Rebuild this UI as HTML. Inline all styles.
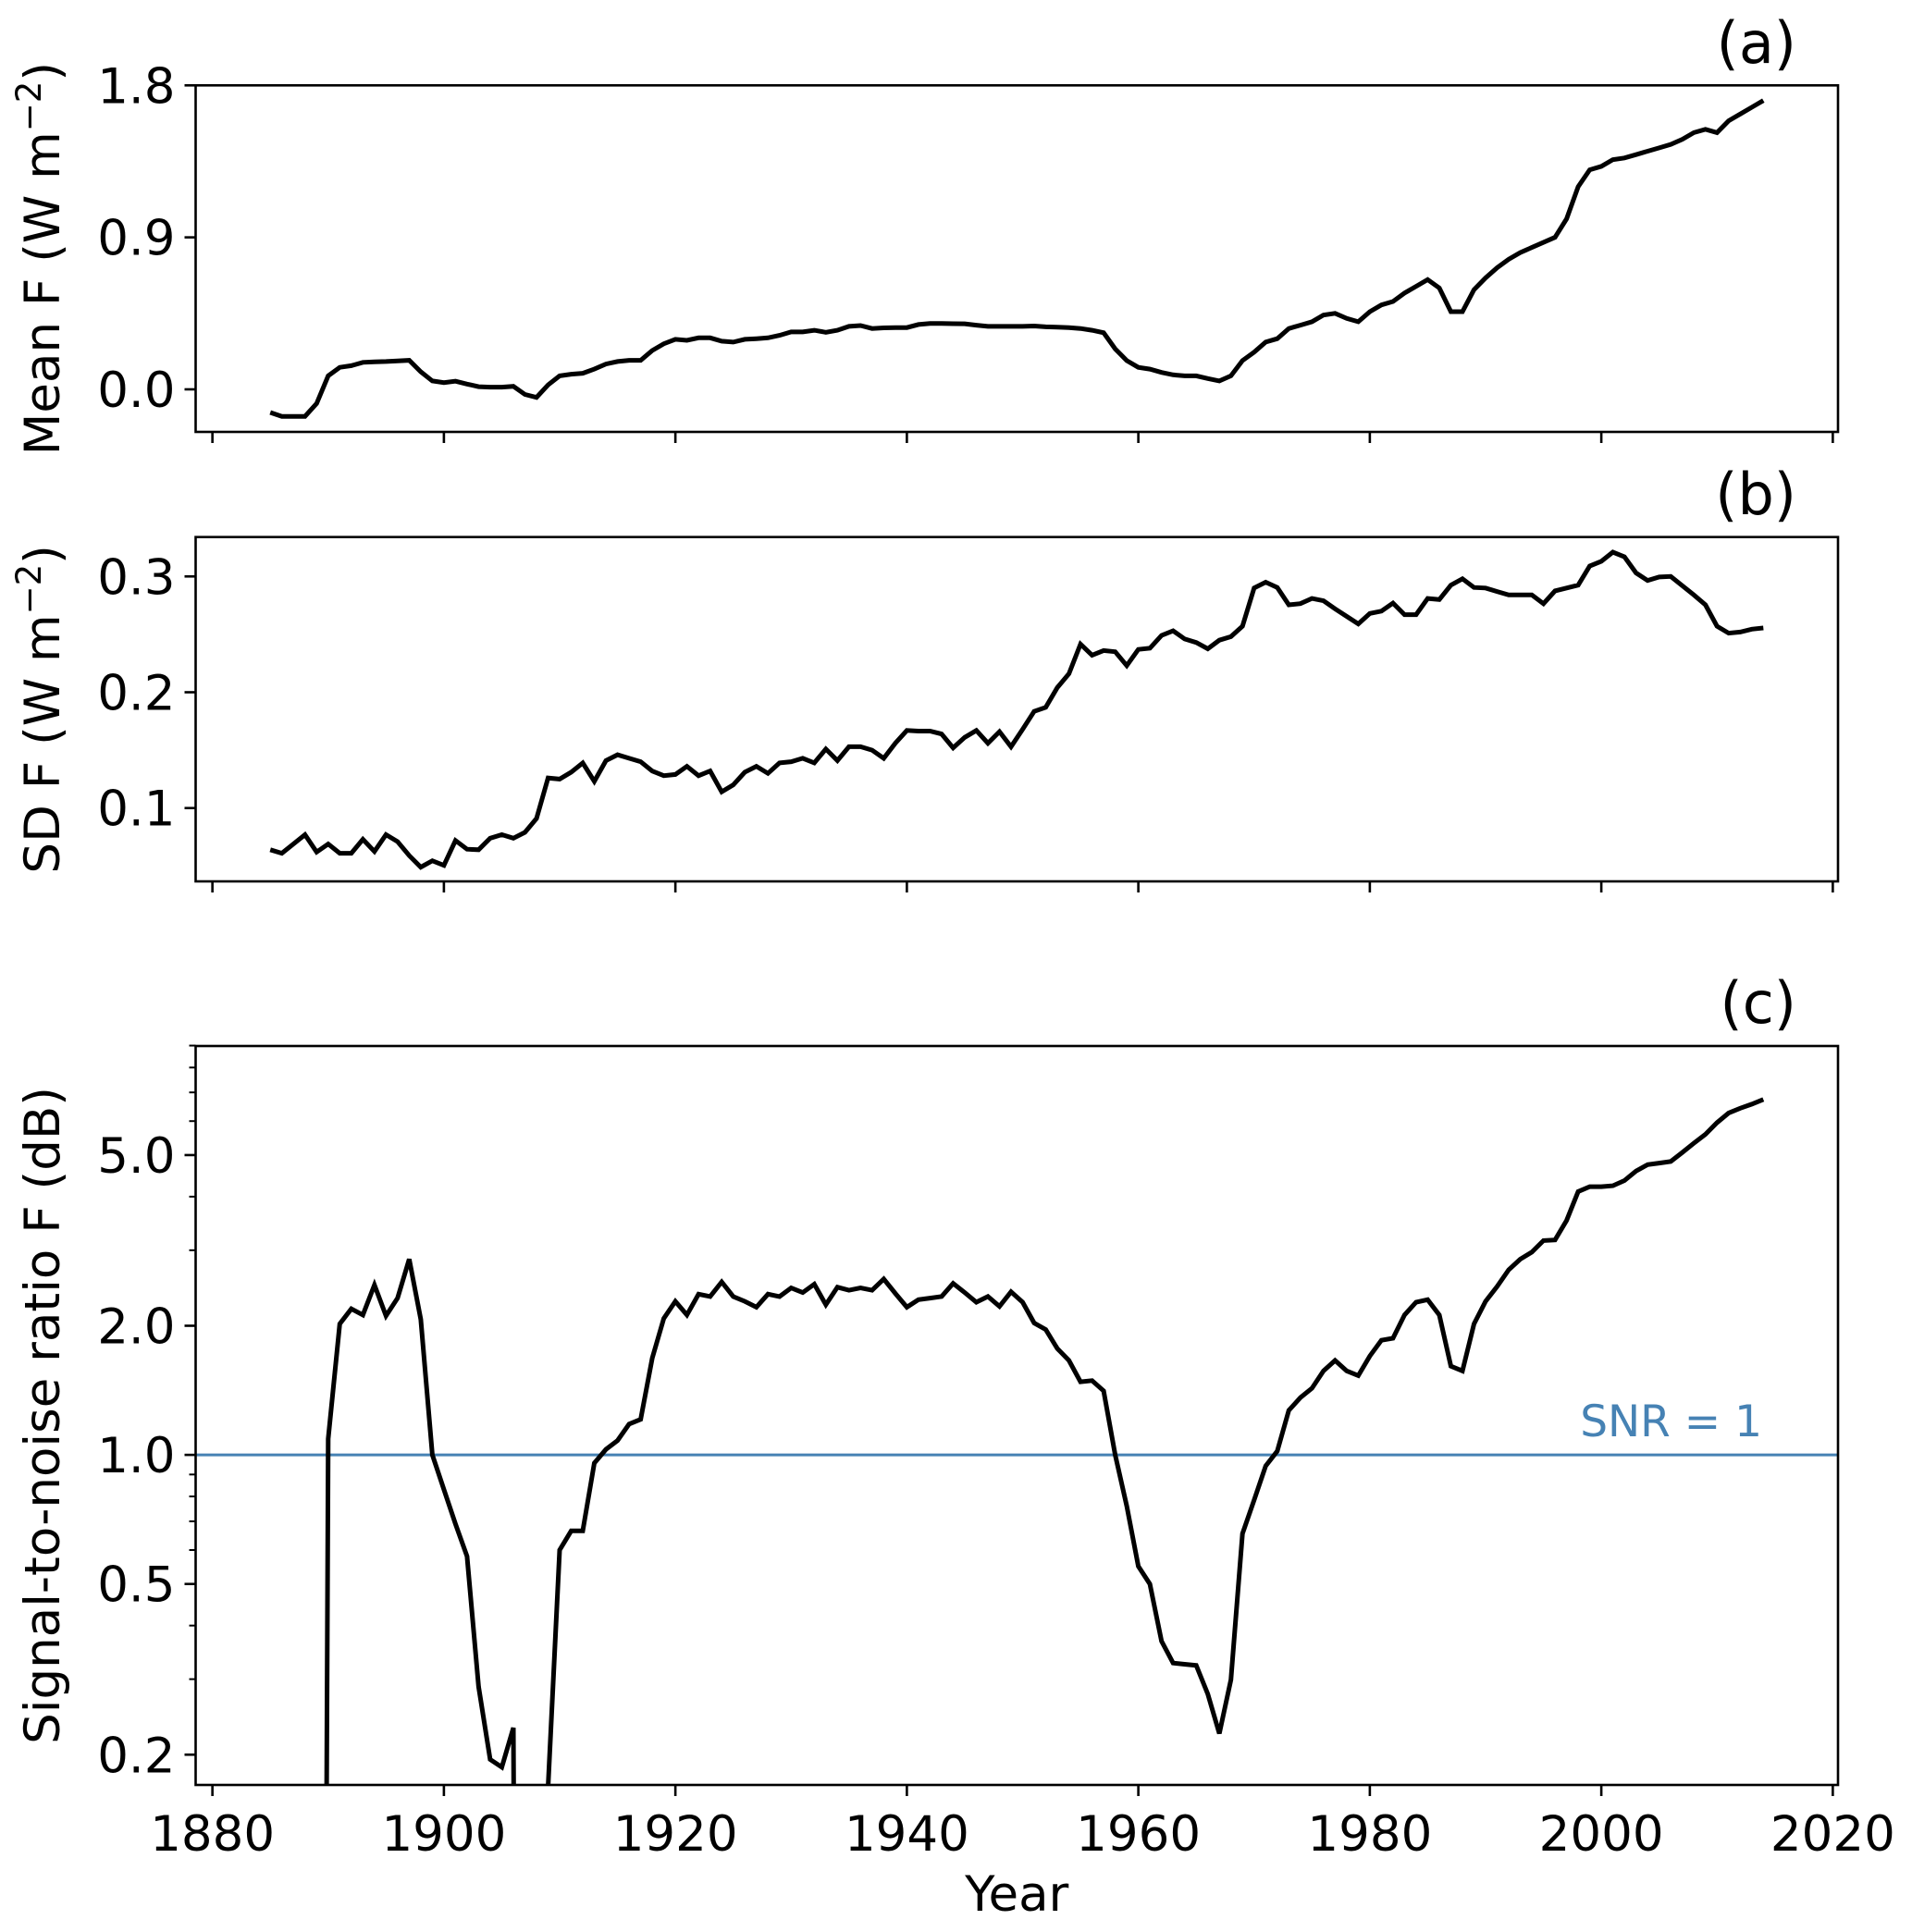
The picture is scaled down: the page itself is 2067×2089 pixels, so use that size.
<!DOCTYPE html>
<html><head><meta charset="utf-8"><title>Forcing mean, SD and SNR</title>
<style>
html,body{margin:0;padding:0;background:#fff;overflow:hidden;width:2067px;height:2089px;}
svg{display:block;font-family:"DejaVu Sans","Liberation Sans",sans-serif;overflow:hidden;}
</style></head>
<body>
<svg id="fig" width="2067" height="2089" viewBox="0 0 2067 2089" xmlns="http://www.w3.org/2000/svg"></svg>
<script>
// ---- data ----
const startYear = 1885;
const meanF = [-0.137,-0.16,-0.16,-0.16,-0.084,0.08,0.13,0.14,0.16,0.163,0.165,0.168,0.172,0.104,0.05,0.04,0.048,0.031,0.016,0.013,0.013,0.018,-0.03,-0.048,0.026,0.08,0.09,0.095,0.12,0.15,0.165,0.172,0.172,0.23,0.27,0.296,0.29,0.305,0.305,0.285,0.28,0.296,0.30,0.305,0.32,0.34,0.34,0.35,0.338,0.35,0.373,0.378,0.36,0.364,0.366,0.366,0.384,0.39,0.39,0.389,0.388,0.38,0.373,0.373,0.373,0.373,0.375,0.37,0.368,0.366,0.36,0.35,0.335,0.24,0.17,0.13,0.12,0.10,0.086,0.08,0.08,0.064,0.05,0.08,0.17,0.22,0.28,0.30,0.36,0.38,0.40,0.44,0.45,0.42,0.40,0.46,0.50,0.52,0.57,0.61,0.65,0.60,0.46,0.46,0.59,0.66,0.72,0.77,0.81,0.84,0.87,0.90,1.01,1.20,1.30,1.32,1.36,1.37,1.39,1.41,1.43,1.45,1.48,1.52,1.54,1.52,1.59,1.63,1.67,1.71];
const sdF = [0.064,0.061,0.069,0.077,0.062,0.069,0.061,0.061,0.073,0.0625,0.077,0.071,0.059,0.049,0.0545,0.0505,0.072,0.0645,0.064,0.074,0.077,0.074,0.079,0.091,0.126,0.125,0.131,0.139,0.123,0.141,0.146,0.143,0.140,0.132,0.128,0.129,0.136,0.128,0.132,0.114,0.120,0.131,0.136,0.130,0.139,0.140,0.143,0.139,0.151,0.141,0.153,0.153,0.150,0.143,0.156,0.167,0.1665,0.1665,0.164,0.152,0.161,0.167,0.156,0.166,0.153,0.168,0.1835,0.187,0.204,0.216,0.2415,0.232,0.236,0.235,0.223,0.237,0.238,0.249,0.253,0.246,0.243,0.2375,0.245,0.248,0.257,0.290,0.295,0.2905,0.2755,0.2765,0.281,0.279,0.272,0.2655,0.259,0.268,0.270,0.277,0.267,0.267,0.281,0.280,0.2925,0.298,0.2905,0.290,0.287,0.284,0.284,0.284,0.2765,0.2875,0.290,0.2925,0.309,0.313,0.321,0.317,0.303,0.2965,0.2995,0.300,0.292,0.284,0.2755,0.257,0.251,0.252,0.2545,0.2555];
const snrF = [null,null,null,null,1e-6,1.09,2.02,2.19,2.12,2.49,2.11,2.32,2.86,2.07,1.0,0.83,0.69,0.58,0.288,0.195,0.187,0.231,1e-6,1e-6,0.168,0.60,0.665,0.665,0.957,1.03,1.08,1.18,1.21,1.68,2.08,2.28,2.12,2.37,2.34,2.53,2.34,2.28,2.21,2.37,2.34,2.45,2.39,2.50,2.24,2.46,2.42,2.45,2.42,2.57,2.38,2.21,2.30,2.32,2.34,2.51,2.39,2.27,2.34,2.22,2.40,2.27,2.03,1.96,1.77,1.66,1.48,1.49,1.41,1.0,0.76,0.55,0.50,0.368,0.327,0.325,0.323,0.277,0.224,0.299,0.655,0.785,0.942,1.02,1.27,1.36,1.43,1.57,1.66,1.57,1.53,1.70,1.85,1.87,2.12,2.27,2.30,2.12,1.61,1.57,2.02,2.28,2.47,2.70,2.86,2.97,3.16,3.17,3.52,4.11,4.22,4.22,4.24,4.36,4.59,4.75,4.79,4.83,5.07,5.33,5.59,5.95,6.27,6.43,6.57,6.74];
const xTicks = [1880,1900,1920,1940,1960,1980,2000,2020];
const aTicks = [0.0,0.9,1.8];
const aTickLabels = ["0.0","0.9","1.8"];
const bTicks = [0.1,0.2,0.3];
const bTickLabels = ["0.1","0.2","0.3"];
const cTicks = [0.2,0.5,1.0,2.0,5.0];
const cTickLabels = ["0.2","0.5","1.0","2.0","5.0"];
const cMinor = [0.3,0.4,0.6,0.7,0.8,0.9,3,4,6,7,8,9];
const snrRef = 1.0;

// ---- layout ----
const NS = "http://www.w3.org/2000/svg";
const svg = document.getElementById('fig');
const L = 211.5, R = 1987, X0 = 1878.55, X1 = 2020.45;
const xs = v => L + (v - X0) / (X1 - X0) * (R - L);
const panels = [
  {key:'a', top:92.3, bot:467, lo:-0.252, hi:1.8, log:false, data:meanF, ticks:aTicks, labels:aTickLabels, ylabel:'Mean F (W m', lab:'(a)', labY:68},
  {key:'b', top:580.7, bot:953, lo:0.0367, hi:0.334, log:false, data:sdF, ticks:bTicks, labels:bTickLabels, ylabel:'SD F (W m', lab:'(b)', labY:556},
  {key:'c', top:1131, bot:1930, lo:0.170, hi:8.98, log:true, data:snrF, ticks:cTicks, labels:cTickLabels, ylabel:'Signal-to-noise ratio F (dB)', lab:'(c)', labY:1106}
];
function mk(tag, attrs, parent){
  const e = document.createElementNS(NS, tag);
  for (const k in attrs) e.setAttribute(k, attrs[k]);
  (parent||svg).appendChild(e);
  return e;
}
panels.forEach(p => {
  const ys = v => {
    if (p.log) { const a=Math.log10(p.lo), b=Math.log10(p.hi); return p.bot - (Math.log10(v)-a)/(b-a)*(p.bot-p.top); }
    return p.bot - (v-p.lo)/(p.hi-p.lo)*(p.bot-p.top);
  };
  const g = mk('g', {});
  
  
  const clip = mk('clipPath', {id:'clip-'+p.key}, g);
  mk('rect', {x:L, y:p.top, width:R-L, height:p.bot-p.top}, clip);

  if (p.key === 'c') {
    const rl = mk('line', {x1:L, x2:R, y1:ys(snrRef), y2:ys(snrRef), stroke:'#4682b4', 'stroke-width':3}, g);
    
    
    const rt = mk('text', {x:1905, y:ys(snrRef)-20, 'text-anchor':'end', 'font-size':47, fill:'#4682b4'}, g);
    rt.textContent = 'SNR = 1';
    
    
  }

  let d = '', pen = false;
  p.data.forEach((v, i) => {
    if (v === null) { pen = false; return; }
    const x = xs(startYear + i);
    let y = ys(v);
    if (y > 5000) y = 5000;
    d += (pen ? 'L' : 'M') + x.toFixed(1) + ',' + y.toFixed(1);
    pen = true;
  });
  const path = mk('path', {d:d, fill:'none', stroke:'#000', 'stroke-width':5, 'stroke-linejoin':'miter', 'clip-path':'url(#clip-'+p.key+')'}, g);
  
  

  const fr = mk('rect', {x:L, y:p.top, width:R-L, height:p.bot-p.top, fill:'none', stroke:'#000', 'stroke-width':2.6}, g);
  
  

  xTicks.forEach(t => {
    const tl = mk('line', {x1:xs(t), x2:xs(t), y1:p.bot, y2:p.bot+12, stroke:'#000', 'stroke-width':2.6}, g);
    
    
    if (p.key === 'c') {
      const tx = mk('text', {x:xs(t), y:2001, 'text-anchor':'middle', 'font-size':53, fill:'#000'}, g);
      tx.textContent = String(t);
      
      
    }
  });
  p.ticks.forEach((t, i) => {
    const y = ys(t);
    const tl = mk('line', {x1:L-12, x2:L, y1:y, y2:y, stroke:'#000', 'stroke-width':2.6}, g);
    
    
    const tx = mk('text', {x:L-22, y:y+19, 'text-anchor':'end', 'font-size':53, fill:'#000'}, g);
    tx.textContent = p.labels[i];
    
    
  });
  if (p.log) {
    cMinor.forEach(t => {
      const y = ys(t);
      const tl = mk('line', {x1:L-7, x2:L, y1:y, y2:y, stroke:'#000', 'stroke-width':2}, g);
      
      
    });
  }
  const cy = (p.top + p.bot) / 2;
  const yl = mk('text', {x:0, y:0, transform:'translate(64,'+cy+') rotate(-90)', 'text-anchor':'middle', 'font-size':53, fill:'#000'}, g);
  if (p.log) {
    yl.textContent = p.ylabel;
  } else {
    yl.appendChild(document.createTextNode(p.ylabel));
    const sup = mk('tspan', {dy:-20, 'font-size':37}, yl);
    sup.textContent = '\u22122';
    const cl = mk('tspan', {dy:20}, yl);
    cl.textContent = ')';
  }
  
  
  const pl = mk('text', {x:1942, y:p.labY, 'text-anchor':'end', 'font-size':62, fill:'#000'}, g);
  pl.textContent = p.lab;
  
  
});
const xl = mk('text', {x:(L+R)/2, y:2066, 'text-anchor':'middle', 'font-size':53, fill:'#000'});
xl.textContent = 'Year';


</script>
</body></html>
